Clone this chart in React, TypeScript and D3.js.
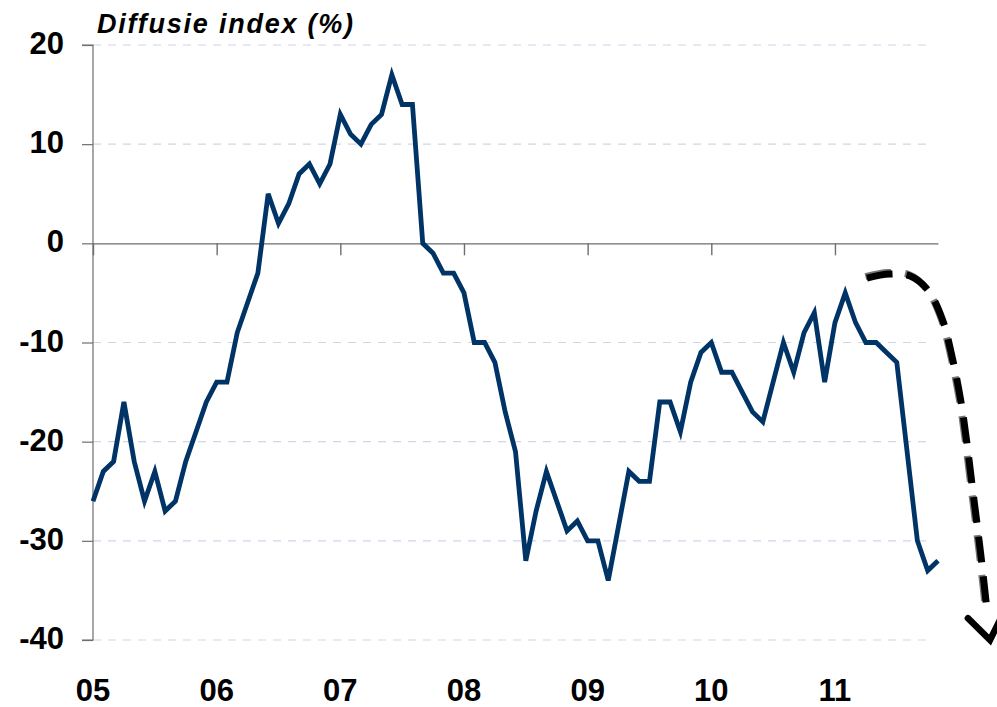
import React, { useEffect, useRef } from "react";
import * as d3 from "d3";

// Diffusie index, monthly, Jan 2005 .. Nov 2011
const values2005 = [-26, -23, -22, -16, -22, -26, -23, -27, -26, -22, -19, -16];
const values2006 = [-14, -14, -9, -6, -3, 5, 2, 4, 7, 8, 6, 8];
const values2007 = [13, 11, 10, 12, 13, 17, 14, 14, 0, -1, -3, -3];
const values2008 = [-5, -10, -10, -12, -17, -21, -32, -27, -23, -26, -29, -28];
const values2009 = [-30, -30, -34, -28.5, -23, -24, -24, -16, -16, -19, -14, -11];
const values2010 = [-10, -13, -13, -15, -17, -18, -14, -10, -13, -9, -7, -14];
const values2011 = [-8, -5, -8, -10, -10, -11, -12, -21, -30, -33, -32];

const yearLabels = ["05", "06", "07", "08", "09", "10", "11"];
const yTicks = [20, 10, 0, -10, -20, -30, -40];
const title = "Diffusie index (%)";

// forecast arrow (month index, value)
const arrowPath: [number, number][] = [
  [75.1, -3.5], [77.3, -3.1], [79.3, -3.3], [81.0, -4.7], [82.4, -7.6],
  [83.4, -11.6], [84.2, -15.8], [84.8, -20.1], [85.3, -24.3], [85.8, -28.4],
  [86.3, -32.7], [86.75, -37.0],
];
const arrowHead: [number, number][] = [[84.9, -37.8], [87.05, -40.0], [88.0, -38.0]];

const FONT = "'Liberation Sans', Arial, sans-serif";

export default function App() {
  const svgRef = useRef<SVGSVGElement | null>(null);

  useEffect(() => {
    const values = [
      ...values2005, ...values2006, ...values2007, ...values2008,
      ...values2009, ...values2010, ...values2011,
    ];
    const width = 997;
    const height = 707;
    const left = 93, right = 938, top = 45, bottom = 640;

    const svg = d3.select(svgRef.current).attr("width", width).attr("height", height);
    svg.selectAll("*").remove();

    const x = d3.scaleLinear().domain([0, values.length - 1]).range([left, right]);
    const y = d3.scaleLinear().domain([-40, 20]).range([bottom, top]);

    // dashed gridlines
    svg.append("g")
      .selectAll("line")
      .data(yTicks.filter((d) => d !== 0))
      .join("line")
      .attr("x1", left)
      .attr("x2", right - 6)
      .attr("y1", (d) => y(d))
      .attr("y2", (d) => y(d))
      .attr("stroke", "#cfd6ea")
      .attr("stroke-width", 1.2)
      .attr("stroke-dasharray", "8,7");

    // y axis
    const yAxis = svg.append("g")
      .attr("transform", `translate(${left},0)`)
      .call(d3.axisLeft(y).tickValues(yTicks).tickSize(11).tickFormat(() => ""));
    yAxis.selectAll("path, line").attr("stroke", "#6e6e6e").attr("stroke-width", 1.2);
    yAxis.select(".domain").attr("d", `M-11,${top}H0V${bottom}H-11`);

    svg.append("g")
      .selectAll("text")
      .data(yTicks)
      .join("text")
      .attr("x", 64)
      .attr("y", (d) => y(d) + 9)
      .attr("text-anchor", "end")
      .style("font-family", FONT)
      .style("font-weight", "bold")
      .style("font-size", "31px")
      .text((d) => String(d));

    // zero line with year ticks
    const xAxis = svg.append("g")
      .attr("transform", `translate(0,${y(0)})`)
      .call(
        d3.axisBottom(x)
          .tickValues(yearLabels.map((_, i) => i * 12))
          .tickSize(12)
          .tickSizeOuter(0)
          .tickFormat(() => "")
      );
    xAxis.selectAll("path, line").attr("stroke", "#6e6e6e").attr("stroke-width", 1.4);

    // year labels at the bottom
    svg.append("g")
      .selectAll("text")
      .data(yearLabels)
      .join("text")
      .attr("x", (_, i) => x(i * 12))
      .attr("y", 701)
      .attr("text-anchor", "middle")
      .style("font-family", FONT)
      .style("font-weight", "bold")
      .style("font-size", "31px")
      .text((d) => d);

    // title
    svg.append("text")
      .attr("x", 97)
      .attr("y", 33)
      .attr("textLength", 256)
      .attr("lengthAdjust", "spacing")
      .style("font-family", FONT)
      .style("font-weight", "bold")
      .style("font-style", "italic")
      .style("font-size", "27px")
      .text(title);

    // data line
    const line = d3.line<number>()
      .x((_, i) => x(i))
      .y((d) => y(d));
    svg.append("path")
      .datum(values)
      .attr("d", line)
      .attr("fill", "none")
      .attr("stroke", "#003466")
      .attr("stroke-width", 4.8)
      .attr("stroke-linejoin", "miter");

    // forecast arrow
    const arrowLine = d3.line<[number, number]>()
      .x((d) => x(d[0]))
      .y((d) => y(d[1]))
      .curve(d3.curveCatmullRom);
    const headLine = d3.line<[number, number]>()
      .x((d) => x(d[0]))
      .y((d) => y(d[1]));

    const arrow = svg.append("g");
    arrow.append("path")
      .attr("d", arrowLine(arrowPath))
      .attr("transform", "translate(-1.5,-1.5)")
      .attr("fill", "none")
      .attr("stroke", "#777")
      .attr("stroke-width", 7)
      .attr("stroke-dasharray", "26,14");
    arrow.append("path")
      .attr("d", arrowLine(arrowPath))
      .attr("fill", "none")
      .attr("stroke", "#000")
      .attr("stroke-width", 7)
      .attr("stroke-dasharray", "26,14");
    arrow.append("path")
      .attr("d", headLine(arrowHead))
      .attr("fill", "none")
      .attr("stroke", "#000")
      .attr("stroke-width", 6.5)
      .attr("stroke-linecap", "round")
      .attr("stroke-linejoin", "miter");
  }, []);

  return (
    <svg
      ref={svgRef}
      style={{ position: "absolute", left: 0, top: 0, background: "#fff" }}
    />
  );
}
